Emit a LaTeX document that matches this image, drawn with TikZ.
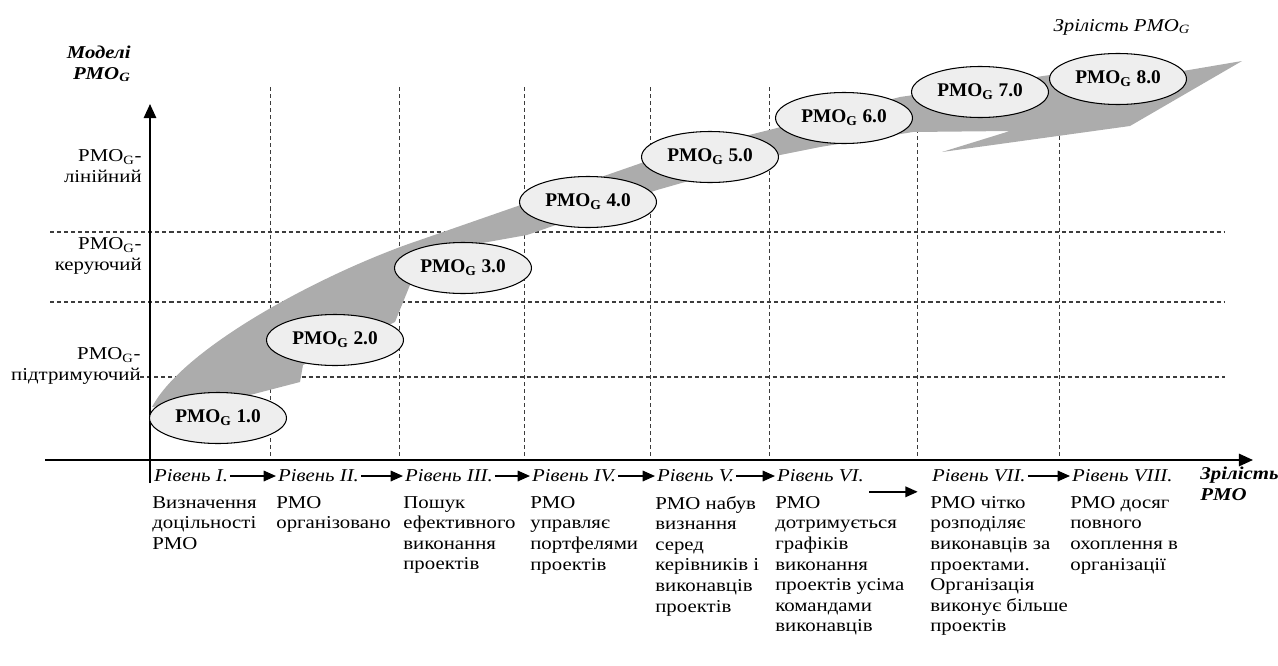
\documentclass[tikz,border=0pt]{standalone}
\usepackage{fontspec}
\setmainfont{Liberation Serif}[FakeStretch=1.15]
\newfontfamily\pmonarrow{Liberation Serif}
\usepackage{tikz}
\usetikzlibrary{arrows.meta,shapes.geometric}
\definecolor{pmogrey}{RGB}{172,172,172}
\definecolor{pmolight}{RGB}{238,238,238}
\definecolor{pmodash}{RGB}{60,60,60}
\newcommand{\pmofont}{\fontsize{10.3}{11.7}\selectfont}

\begin{document}
\begin{tikzpicture}[x=0.02cm, y=-0.02cm,
    model/.style={ellipse, draw=black, line width=0.6pt, fill=pmolight,
                  minimum width=2.74cm, minimum height=1.02cm, inner sep=0pt,
                  font=\pmonarrow\fontsize{11}{12}\selectfont\bfseries},
    grid/.style={dash pattern=on 2.3pt off 1.7pt, line width=0.5pt, pmodash},
    axis/.style={-{Triangle[length=8pt,width=7pt]}, line width=1.2pt},
    arr/.style={-{Triangle[length=7pt,width=6pt]}, line width=0.9pt},
    lvl/.style={font=\pmofont\itshape, anchor=west, inner sep=1pt},
    body/.style={font=\pmofont, anchor=north west, align=left, inner sep=0pt},
    ylab/.style={font=\pmofont, anchor=east, align=right, inner sep=0pt},
  ]
  \useasboundingbox (0,0) rectangle (1278,666);

  % --- grid ---
  \foreach \x in {270,399,524,650,769,917,1059}
    \draw[grid] (\x,87) -- (\x,460);
  \draw[grid, line width=0.6pt] (50,232) -- (1225,232);
  \draw[grid, line width=0.6pt] (50,302) -- (1225,302);
  \draw[grid, line width=0.6pt] (140,377) -- (1225,377);

  % --- grey band ---
  \fill[pmogrey] (152,407) .. controls (185,345) and (330,270) .. (420,240)
    -- (650,160) -- (900,97) -- (1050,75) -- (1183,71) -- (1242,61)
    -- (1130,126) -- (942,152) -- (1010,131) -- (913,132)
    -- (820,147) -- (780,155) -- (657,190) -- (527,235) -- (443,250)
    -- (410,285) -- (395,322) -- (303,365) -- (300,382) -- (250,395)
    -- (200,402) -- cycle;

  % --- axes ---
  \node[ylab, font=\pmofont\bfseries\itshape] (ytitle) at (131,64) {Моделі\\PMO\textsubscript{G}};
  \node[ylab] (yl3) at (142,166) {PMO\textsubscript{G}-\\лінійний};
  \node[ylab] (yl2) at (142,256) {PMO\textsubscript{G}-\\керуючий};
  \node[ylab] (yl1) at (141,366) {PMO\textsubscript{G}-\\підтримуючий};
  \coordinate (ybot) at (150,483);
  \coordinate (ytop) at (150,104);
  \coordinate (xleft) at (45,460);
  \coordinate (xright) at (1253,460);
  \draw[axis] (ybot) -- (ytop);
  \draw[axis] (xleft) -- (xright);
  \node[font=\pmofont\itshape] (xtop) at (1122,27) {Зрілість PMO\textsubscript{G}};
  \node[body, font=\pmofont\bfseries\itshape] (xtitle) at (1200,467) {Зрілість\\PMO};

  % --- models ---
  \node[model] (m1) at (218,418) {PMO\textsubscript{G} 1.0};
  \node[model] (m2) at (335,340) {PMO\textsubscript{G} 2.0};
  \node[model] (m3) at (463,268) {PMO\textsubscript{G} 3.0};
  \node[model] (m4) at (588,202) {PMO\textsubscript{G} 4.0};
  \node[model] (m5) at (710,157) {PMO\textsubscript{G} 5.0};
  \node[model] (m6) at (844,118) {PMO\textsubscript{G} 6.0};
  \node[model] (m7) at (980,92) {PMO\textsubscript{G} 7.0};
  \node[model] (m8) at (1118,79) {PMO\textsubscript{G} 8.0};

  % --- levels ---
  \foreach \n/\x/\lbl in {1/152/I., 2/276/II., 3/403/III., 4/530/IV.,
                           5/655/V., 6/775/VI., 7/930/VII., 8/1070/VIII.}
    \node[lvl] (lvl\n) at (\x,476) {Рівень \lbl};
  \foreach \n/\m in {1/2, 2/3, 3/4, 4/5, 5/6, 7/8}
    \draw[arr] (lvl\n) -- (lvl\m);
  \draw[arr] ([xshift=2pt,yshift=-9pt]lvl6.east) -- ([xshift=-7pt,yshift=-9pt]lvl7.west);

  \node[body] (d1) at (152,496) {Визначення\\доцільності\\PMO};
  \node[body] (d2) at (276,496) {PMO\\організовано};
  \node[body] (d3) at (403,496) {Пошук\\ефективного\\виконання\\проектів};
  \node[body] (d4) at (530,496) {PMO\\управляє\\портфелями\\проектів};
  \node[body] (d5) at (655,496) {PMO набув\\визнання\\серед\\керівників і\\виконавців\\проектів};
  \node[body] (d6) at (775,496) {PMO\\дотримується\\графіків\\виконання\\проектів усіма\\командами\\виконавців};
  \node[body] (d7) at (930,496) {PMO чітко\\розподіляє\\виконавців за\\проектами.\\Організація\\виконує більше\\проектів};
  \node[body] (d8) at (1070,496) {PMO досяг\\повного\\охоплення в\\організації};
\end{tikzpicture}
\end{document}
